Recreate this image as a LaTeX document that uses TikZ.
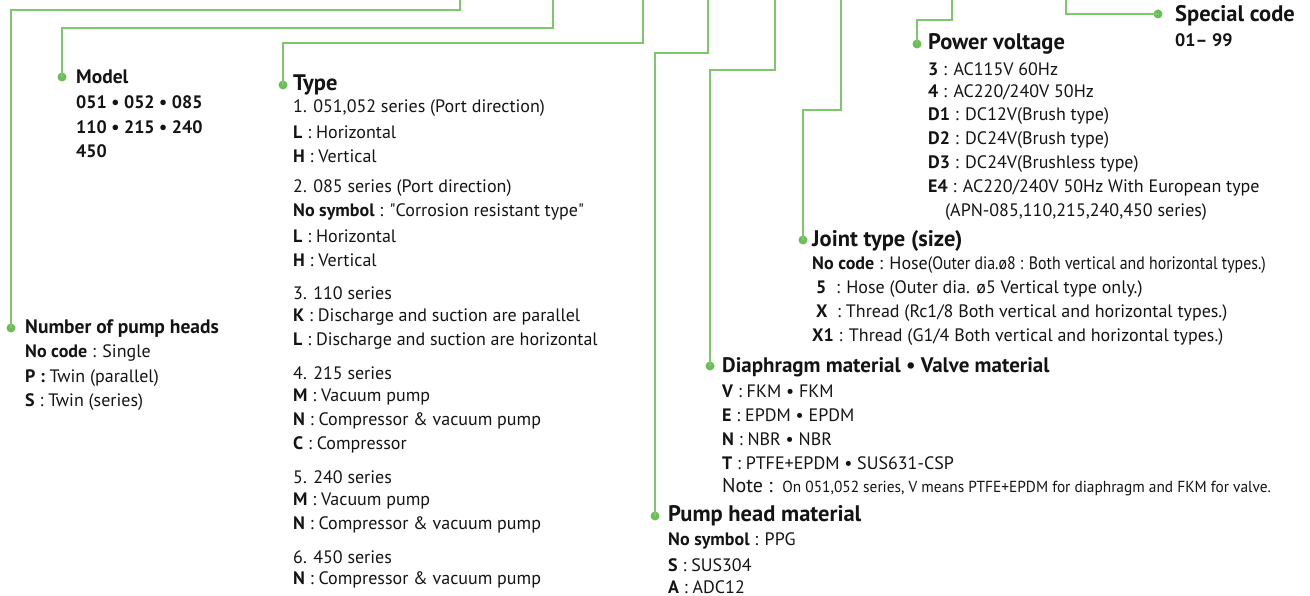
\documentclass[tikz,border=0pt]{standalone}
\usepackage{fontspec}
\setmainfont{PT Sans}
\newfontfamily\ptraw{PT Sans}
\definecolor{grn}{RGB}{108,190,88}
\definecolor{lgrn}{RGB}{126,200,108}
\definecolor{txt}{RGB}{20,20,20}
\tikzset{
 conn/.style={draw=lgrn, line width=1.3pt},
 dot/.style={circle, fill=grn, inner sep=0pt, minimum size=9pt},
 hd/.style={anchor=west, inner sep=0pt, font=\fontsize{22.5}{24}\selectfont\bfseries, text=txt},
 hds/.style={anchor=west, inner sep=0pt, font=\fontsize{19.5}{21}\selectfont\bfseries, text=txt},
 hdn/.style={anchor=west, inner sep=0pt, font=\fontsize{18}{20}\selectfont\bfseries, text=txt},
 ln/.style={anchor=west, inner sep=0pt, font=\fontsize{18}{20}\selectfont, text=txt},
}
\newcommand{\condtext}[1]{\scalebox{0.88}[1]{#1}}
\newcommand{\notetext}[1]{{\fontsize{16}{18}\selectfont\scalebox{0.96}[1]{#1}}}
\newcommand{\dq}{{\ptraw\char34}}
\begin{document}
\begin{tikzpicture}[x=1pt,y=-1pt]
\useasboundingbox (0,0) rectangle (1310,596);
% top coordinates
\coordinate (tA) at (460,0);
\coordinate (tB) at (553,0);
\coordinate (tC) at (643,0);
\coordinate (tD) at (708,0);
\coordinate (tE) at (775,0);
\coordinate (tF) at (841,0);
\coordinate (tG) at (952,0);
\coordinate (tH) at (1066,0);
% dots
\node[dot] (dA) at (11,328) {};
\node[dot] (dB) at (62,77) {};
\node[dot] (dC) at (283,85) {};
\node[dot] (dD) at (655,516) {};
\node[dot] (dE) at (710,366) {};
\node[dot] (dF) at (803,240) {};
\node[dot] (dG) at (917,44) {};
\node[dot] (dH) at (1158,14) {};
% connectors
\draw[conn] (tA) -- ++(0,10) -| (dA.center);
\draw[conn] (tB) -- ++(0,28) -| (dB.center);
\draw[conn] (tC) -- ++(0,43) -| (dC.center);
\draw[conn] (tD) -- ++(0,53) -| (dD.center);
\draw[conn] (tE) -- ++(0,70) -| (dE.center);
\draw[conn] (tF) -- ++(0,110) -| (dF.center);
\draw[conn] (tG) -- ++(0,20) -| (dG.center);
\draw[conn] (tH) |- (dH.center);
% Model
\node[hds] (mh) at (76,77) {Model};
\node[hdn] (m1) at (76,102) {051 • 052 • 085};
\node[hdn] (m2) at (76,127) {110 • 215 • 240};
\node[hdn] (m3) at (76,151) {450};
% Number of pump heads
\node[hds] (nh) at (25,329) {Number of pump heads};
\node[ln] (n1) at (25,353) {\textbf{No code} : Single};
\node[ln] (n2) at (25,378) {\textbf{P :} Twin (parallel)};
\node[ln] (n3) at (25,402) {\textbf{S} : Twin (series)};
% Type
\node[hd] (th) at (293,85) {Type};
\node[ln] (t1) at (293,108) {1. 051,052 series (Port direction)};
\node[ln] (t2) at (293,132) {\textbf{L} : Horizontal};
\node[ln] (t3) at (293,156) {\textbf{H} : Vertical};
\node[ln] (t4) at (293,188) {2. 085 series (Port direction)};
\node[ln] (t5) at (293,212) {\textbf{No symbol} : \dq Corrosion resistant type\dq};
\node[ln] (t6) at (293,236) {\textbf{L} : Horizontal};
\node[ln] (t7) at (293,260) {\textbf{H} : Vertical};
\node[ln] (t8) at (293,293) {3. 110 series};
\node[ln] (t9) at (293,317) {\textbf{K} : Discharge and suction are parallel};
\node[ln] (t10) at (293,341) {\textbf{L} : Discharge and suction are horizontal};
\node[ln] (t11) at (293,373) {4. 215 series};
\node[ln] (t12) at (293,397) {\textbf{M} : Vacuum pump};
\node[ln] (t13) at (293,421) {\textbf{N} : Compressor \& vacuum pump};
\node[ln] (t14) at (293,445) {\textbf{C} : Compressor};
\node[ln] (t15) at (293,477) {5. 240 series};
\node[ln] (t16) at (293,501) {\textbf{M} : Vacuum pump};
\node[ln] (t17) at (293,525) {\textbf{N} : Compressor \& vacuum pump};
\node[ln] (t18) at (293,557) {6. 450 series};
\node[ln] (t19) at (293,580) {\textbf{N} : Compressor \& vacuum pump};
% Power voltage
\node[hd] (ph) at (928,44) {Power voltage};
\node[ln] (p1) at (928,69) {\textbf{3} : AC115V 60Hz};
\node[ln] (p2) at (928,92) {\textbf{4} : AC220/240V 50Hz};
\node[ln] (p3) at (928,116) {\textbf{D1} : DC12V(Brush type)};
\node[ln] (p4) at (928,140) {\textbf{D2} : DC24V(Brush type)};
\node[ln] (p5) at (928,164) {\textbf{D3} : DC24V(Brushless type)};
\node[ln] (p6) at (928,188) {\textbf{E4} : AC220/240V 50Hz With European type};
\node[ln] (p7) at (945,212) {(APN-085,110,215,240,450 series)};
% Special code
\node[hd] (sh) at (1175,16) {Special code};
\node[hdn] (s1) at (1175,40) {01– 99};
% Joint type
\node[hd] (jh) at (812,241) {Joint type (size)};
\node[ln] (j1) at (812,265) {\textbf{No code} : Hose\condtext{(Outer dia.ø8 : Both vertical and horizontal types.)}};
\node[ln] (j2) at (816,289) {\textbf{5}\ \ : Hose (Outer dia. ø5 Vertical type only.)};
\node[ln] (j3) at (816,313) {\textbf{X}\ \ : Thread (Rc1/8 Both vertical and horizontal types.)};
\node[ln] (j4) at (812,337) {\textbf{X1} : Thread (G1/4 Both vertical and horizontal types.)};
% Diaphragm
\node[hd, font=\fontsize{21}{23}\selectfont\bfseries] (vh) at (722,367) {Diaphragm material • Valve material};
\node[ln] (v1) at (722,391) {\textbf{V} : FKM • FKM};
\node[ln] (v2) at (722,415) {\textbf{E} : EPDM • EPDM};
\node[ln] (v3) at (722,439) {\textbf{N} : NBR • NBR};
\node[ln] (v4) at (722,463) {\textbf{T} : PTFE+EPDM • SUS631-CSP};
\node[ln] (v5) at (722,487) {{\fontsize{20}{22}\selectfont Note :}\ \ \notetext{On 051,052 series, V means PTFE+EPDM for diaphragm and FKM for valve.}};
% Pump head material
\node[hd] (hh) at (668,516) {Pump head material};
\node[ln] (h1) at (668,541) {\textbf{No symbol} : PPG};
\node[ln] (h2) at (668,565) {\textbf{S} : SUS304};
\node[ln] (h3) at (668,587) {\textbf{A} : ADC12};
\end{tikzpicture}
\end{document}
